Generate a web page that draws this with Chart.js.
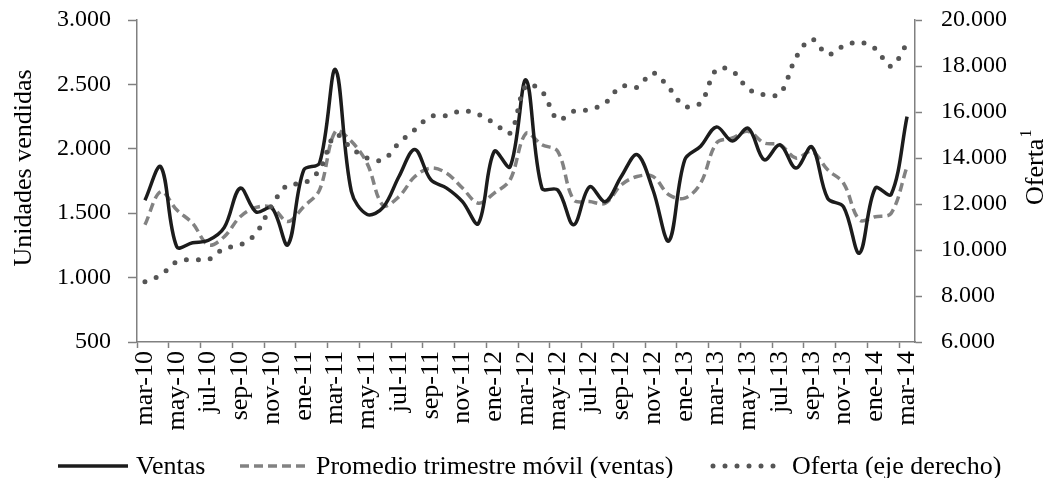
<!DOCTYPE html>
<html lang="es">
<head>
<meta charset="UTF-8" />
<title>Ventas y oferta</title>
<script src="https://cdn.jsdelivr.net/npm/chart.js"></script>
<style>
  body { margin: 0; background: #fff; }
</style>
</head>
<body>
<canvas id="chart" width="1049" height="478"></canvas>
<script>
const meses = [
  'mar-10','abr-10','may-10','jun-10','jul-10','ago-10','sep-10','oct-10','nov-10','dic-10',
  'ene-11','feb-11','mar-11','abr-11','may-11','jun-11','jul-11','ago-11','sep-11','oct-11','nov-11','dic-11',
  'ene-12','feb-12','mar-12','abr-12','may-12','jun-12','jul-12','ago-12','sep-12','oct-12','nov-12','dic-12',
  'ene-13','feb-13','mar-13','abr-13','may-13','jun-13','jul-13','ago-13','sep-13','oct-13','nov-13','dic-13',
  'ene-14','feb-14','mar-14'
]

const ventas = [
  1600, 1860, 1240, 1270, 1290, 1390, 1695, 1510, 1540, 1255,
  1835, 1890, 2615, 1670, 1490, 1545, 1785, 1995, 1760, 1695, 1590, 1420,
  1980, 1860, 2535, 1695, 1680, 1410, 1705, 1590, 1785, 1955, 1680, 1285,
  1915, 2020, 2170, 2060, 2160, 1915, 2030, 1850, 2015, 1615, 1550, 1190,
  1695, 1645, 2250
]

const promedio = [
  1410, 1668, 1526, 1422, 1253, 1318, 1473, 1545, 1545, 1435,
  1551, 1681, 2135, 2058, 1885, 1560, 1629, 1785, 1850, 1811, 1695, 1578,
  1656, 1759, 2120, 2032, 1980, 1604, 1590, 1578, 1720, 1785, 1785, 1643,
  1617, 1733, 2045, 2084, 2135, 2045, 2032, 1928, 1980, 1837, 1733, 1448,
  1473, 1500, 1863
]

const oferta = [
  8620, 8910, 9490, 9590, 9590, 10070, 10220, 10730, 11960, 12830,
  12900, 13490, 15010, 14430, 14000, 13920, 14650, 15230, 15810, 15840, 16060, 15890,
  15520, 15090, 17150, 16900, 15670, 16030, 16100, 16400, 17120, 17080, 17700, 17050,
  16250, 16400, 17850, 17780, 17010, 16750, 16800, 18360, 19160, 18500, 18870, 19040,
  18750, 17990, 18980
]

const serif = '"Liberation Serif", "Times New Roman", serif'
const axisGray = '#808080'

function miles(v) {
  return String(v).replace(/\B(?=(\d{3})+(?!\d))/g, '.')
}

// fixed axis width, and no extra top/bottom room from the tick padding
function fixY(width) {
  return (s) => {
    s.width = width
    s.paddingTop = 0
    s.paddingBottom = 0
  }
}

// axis titles and bottom legend, drawn like the Excel original
const extras = {
  id: 'extras',
  afterDraw(chart) {
    const { ctx } = chart
    ctx.save()
    ctx.fillStyle = '#000'
    ctx.font = '26px ' + serif
    ctx.textBaseline = 'middle'

    ctx.save()
    ctx.translate(24, 168)
    ctx.rotate(-Math.PI / 2)
    ctx.textAlign = 'center'
    ctx.fillText('Unidades vendidas', 0, 0)
    ctx.restore()

    ctx.save()
    ctx.translate(1036, 205)
    ctx.rotate(-Math.PI / 2)
    ctx.textAlign = 'left'
    ctx.fillText('Oferta', 0, 0)
    const w = ctx.measureText('Oferta').width
    ctx.font = '16px ' + serif
    ctx.fillText('1', w + 1, -9)
    ctx.restore()

    const items = [
      { x0: 58, x1: 128, tx: 136 },
      { x0: 240, x1: 306, tx: 316 },
      { x0: 713, x1: 779, tx: 792 },
    ]
    const y = 466
    chart.data.datasets.forEach((ds, i) => {
      const it = items[i]
      ctx.save()
      ctx.beginPath()
      ctx.strokeStyle = ds.borderColor
      ctx.lineWidth = ds.borderWidth
      ctx.lineCap = ds.borderCapStyle || 'butt'
      ctx.setLineDash(ds.borderDash || [])
      ctx.moveTo(it.x0, y)
      ctx.lineTo(it.x1, y)
      ctx.stroke()
      ctx.restore()
      ctx.font = '26px ' + serif
      ctx.textAlign = 'left'
      ctx.fillText(ds.label, it.tx, y + 1)
    })
    ctx.restore()
  },
}

new Chart(document.getElementById('chart'), {
  type: 'line',
  data: {
    labels: meses,
    datasets: [
      {
        label: 'Ventas',
        data: ventas,
        yAxisID: 'y',
        borderColor: '#1c1c1c',
        borderWidth: 3.5,
        tension: 0.35,
        pointRadius: 0,
        order: 1,
      },
      {
        label: 'Promedio trimestre móvil (ventas)',
        data: promedio,
        yAxisID: 'y',
        borderColor: '#828282',
        borderWidth: 3.5,
        borderDash: [9, 5],
        tension: 0.35,
        pointRadius: 0,
        order: 2,
      },
      {
        label: 'Oferta (eje derecho)',
        data: oferta,
        yAxisID: 'y1',
        borderColor: '#555555',
        borderWidth: 5,
        borderDash: [0, 12],
        borderCapStyle: 'round',
        tension: 0.35,
        pointRadius: 0,
        order: 0,
      },
    ],
  },
  options: {
    responsive: false,
    animation: false,
    events: [],
    layout: { padding: { top: 20, bottom: 32, left: 0, right: 0 } },
    plugins: {
      legend: { display: false },
      tooltip: { enabled: false },
    },
    scales: {
      x: {
        offset: true,
        grid: {
          offset: true,
          drawOnChartArea: false,
          drawTicks: true,
          tickLength: 6,
          tickWidth: 1.5,
          tickColor: (c) => (c.index % 2 === 0 ? axisGray : 'rgba(0,0,0,0)'),
        },
        border: { display: true, color: axisGray, width: 1.5 },
        ticks: {
          autoSkip: false,
          minRotation: 90,
          maxRotation: 90,
          padding: 3,
          color: '#000',
          font: { family: serif, size: 26 },
          callback: function (v, i) {
            return i % 2 === 0 ? this.getLabelForValue(v) : ''
          },
        },
        afterFit: (s) => { s.height = 104 },
      },
      y: {
        position: 'left',
        min: 500,
        max: 3000,
        grid: {
          drawOnChartArea: false,
          tickLength: 9,
          tickWidth: 1.5,
          tickColor: axisGray,
        },
        border: { display: true, color: axisGray, width: 1.5 },
        ticks: {
          stepSize: 500,
          padding: 17,
          color: '#000',
          font: { family: serif, size: 24 },
          callback: (v) => miles(v),
        },
        afterFit: fixY(137),
      },
      y1: {
        position: 'right',
        min: 6000,
        max: 20000,
        grid: {
          drawOnChartArea: false,
          tickLength: 7,
          tickWidth: 1.5,
          tickColor: axisGray,
        },
        border: { display: true, color: axisGray, width: 1.5 },
        ticks: {
          stepSize: 2000,
          padding: 19,
          color: '#000',
          font: { family: serif, size: 24 },
          callback: (v) => miles(v),
        },
        afterFit: fixY(134),
      },
    },
  },
  plugins: [extras],
})
</script>
</body>
</html>
